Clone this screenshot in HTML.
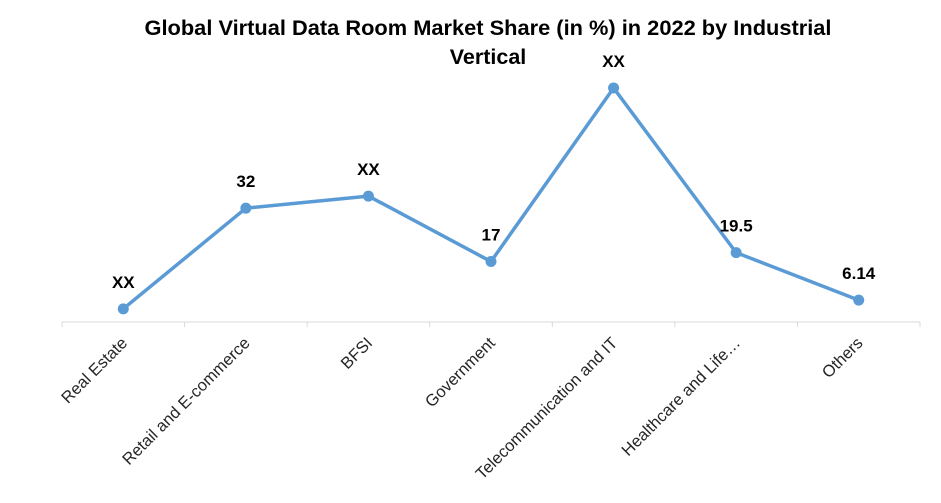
<!DOCTYPE html>
<html><head><meta charset="utf-8"><style>
body{margin:0;background:#fff;}
svg text{font-family:"Liberation Sans",Arial,sans-serif;}
</style></head><body>
<svg id="chart" width="941" height="498" viewBox="0 0 941 498" xmlns="http://www.w3.org/2000/svg">
<text x="488" y="35" text-anchor="middle" font-size="21.5" font-weight="bold" textLength="687" lengthAdjust="spacingAndGlyphs">Global Virtual Data Room Market Share (in %) in 2022 by Industrial</text>
<text x="488" y="64" text-anchor="middle" font-size="21.5" font-weight="bold">Vertical</text>
<g id="axis"></g><g id="series"></g>
</svg>
<script>
const categories=["Real Estate","Retail and E-commerce","BFSI","Government","Telecommunication and IT","Healthcare and Life…","Others"];
const values=[3.7,32,35.4,17,65.8,19.5,6.14];
const valueLabels=["XX","32","XX","17","XX","19.5","6.14"];
const NS="http://www.w3.org/2000/svg";
const x0=62,x1=920,y0=322,pxPerUnit=3.557;
const band=(x1-x0)/categories.length;
const xs=i=>x0+band*(i+0.5);
const ys=v=>y0-v*pxPerUnit;
const axis=document.getElementById('axis'),series=document.getElementById('series');
function mk(t,a,p){const e=document.createElementNS(NS,t);for(const k in a)e.setAttribute(k,a[k]);p.appendChild(e);return e;}
const al=mk('line',{x1:x0,x2:x1,y1:y0,y2:y0,stroke:'#d9d9d9','stroke-width':1},axis);


for(let i=0;i<=categories.length;i++){
 const t=mk('line',{x1:x0+band*i,x2:x0+band*i,y1:y0,y2:y0+5,stroke:'#d9d9d9'},axis);
 
 
}
categories.forEach((c,i)=>{
 const x=xs(i)+5,y=y0+22;
 const t=mk('text',{x:x,y:y,'text-anchor':'end','font-size':'16.5',fill:'#262626',transform:`rotate(-45 ${x} ${y})`},axis);
 t.textContent=c;
 
 
});
const pts=values.map((v,i)=>xs(i)+','+ys(v)).join(' ');
const pl=mk('polyline',{points:pts,fill:'none',stroke:'#5b9bd5','stroke-width':3.5,'stroke-linejoin':'round'},series);


values.forEach((v,i)=>{
 const c=mk('circle',{cx:xs(i),cy:ys(v),r:5.5,fill:'#5b9bd5'},series);
 
 
 const t=mk('text',{x:xs(i),y:ys(v)-21,'text-anchor':'middle','font-size':'17','font-weight':'bold',fill:'#000'},series);
 t.textContent=valueLabels[i];
 
 
});
</script>
</body></html>
